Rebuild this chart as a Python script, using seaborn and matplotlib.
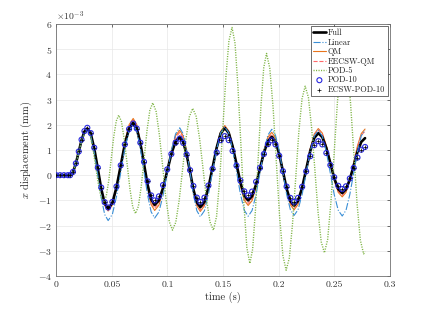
import matplotlib
matplotlib.use("Agg")
import matplotlib.pyplot as plt
from matplotlib.ticker import ScalarFormatter, MultipleLocator
import numpy as np
import seaborn as sns

# time samples (s) for the main responses
t_main = [0, 0.0035, 0.007, 0.0105,
          0.0125, 0.0151, 0.0177, 0.0203, 0.0228, 0.0254,
          0.0280, 0.0311, 0.0342, 0.0374, 0.0405, 0.0436,
          0.0467, 0.0505, 0.0542, 0.0580, 0.0617, 0.0655,
          0.0692, 0.0724, 0.0756, 0.0789, 0.0821, 0.0853,
          0.0885, 0.0923, 0.0960, 0.0998, 0.1035, 0.1073,
          0.1110, 0.1141, 0.1172, 0.1203, 0.1233, 0.1264,
          0.1295, 0.1332, 0.1368, 0.1405, 0.1442, 0.1478,
          0.1515, 0.1550, 0.1585, 0.1620, 0.1655, 0.1690,
          0.1725, 0.1760, 0.1796, 0.1831, 0.1866, 0.1902,
          0.1937, 0.1970, 0.2004, 0.2037, 0.2070, 0.2104,
          0.2137, 0.2173, 0.2210, 0.2246, 0.2282, 0.2319,
          0.2355, 0.2391, 0.2427, 0.2463, 0.2498, 0.2534,
          0.2570, 0.2604, 0.2638, 0.2673, 0.2707, 0.2741, 0.2775]

# displacements in units of 1e-3 mm
full = [0, 0, 0, 0,
        0, 0.12, 0.46, 0.93, 1.39, 1.73,
        1.85, 1.64, 1.06, 0.26, -0.54, -1.12,
        -1.33, -1.10, -0.48, 0.38, 1.23, 1.85,
        2.08, 1.86, 1.27, 0.45, -0.37, -0.96,
        -1.18, -1.00, -0.51, 0.17, 0.85, 1.34,
        1.52, 1.33, 0.82, 0.13, -0.57, -1.08,
        -1.27, -1.06, -0.49, 0.30, 1.09, 1.66,
        1.87, 1.68, 1.15, 0.44, -0.28, -0.81,
        -1.00, -0.83, -0.37, 0.26, 0.89, 1.35,
        1.52, 1.34, 0.84, 0.16, -0.53, -1.03,
        -1.21, -1.02, -0.49, 0.23, 0.95, 1.48,
        1.67, 1.51, 1.08, 0.48, -0.12, -0.55,
        -0.71, -0.56, -0.17, 0.38, 0.93, 1.32, 1.47]

linear = [0, 0, 0, 0,
          0, 0.12, 0.45, 0.90, 1.35, 1.68,
          1.80, 1.56, 0.90, 0.00, -0.90, -1.56,
          -1.80, -1.55, -0.85, 0.10, 1.05, 1.75,
          2.00, 1.75, 1.08, 0.15, -0.78, -1.45,
          -1.70, -1.46, -0.81, 0.09, 0.99, 1.64,
          1.88, 1.64, 1.00, 0.12, -0.77, -1.41,
          -1.65, -1.41, -0.76, 0.14, 1.03, 1.68,
          1.92, 1.68, 1.03, 0.15, -0.74, -1.39,
          -1.63, -1.40, -0.77, 0.10, 0.96, 1.59,
          1.82, 1.59, 0.97, 0.11, -0.75, -1.37,
          -1.60, -1.37, -0.76, 0.09, 0.94, 1.55,
          1.78, 1.55, 0.93, 0.08, -0.77, -1.39,
          -1.62, -1.39, -0.77, 0.09, 0.94, 1.56, 1.79]

qm = [0, 0, 0, 0,
      0, 0.13, 0.47, 0.94, 1.41, 1.75,
      1.88, 1.66, 1.06, 0.23, -0.60, -1.20,
      -1.42, -1.17, -0.50, 0.42, 1.33, 2.00,
      2.25, 2.01, 1.34, 0.43, -0.49, -1.16,
      -1.40, -1.19, -0.61, 0.19, 0.99, 1.57,
      1.78, 1.56, 0.98, 0.17, -0.64, -1.22,
      -1.44, -1.21, -0.59, 0.27, 1.12, 1.74,
      1.97, 1.76, 1.18, 0.39, -0.41, -0.99,
      -1.20, -1.01, -0.48, 0.25, 0.98, 1.51,
      1.70, 1.49, 0.93, 0.16, -0.61, -1.17,
      -1.38, -1.16, -0.57, 0.24, 1.04, 1.63,
      1.85, 1.67, 1.17, 0.50, -0.18, -0.68,
      -0.86, -0.68, -0.19, 0.49, 1.16, 1.65, 1.83]

eecsw_qm = [0, 0, 0, 0,
            0, 0.13, 0.47, 0.94, 1.40, 1.74,
            1.87, 1.65, 1.06, 0.25, -0.57, -1.16,
            -1.38, -1.14, -0.49, 0.40, 1.29, 1.94,
            2.18, 1.95, 1.31, 0.44, -0.43, -1.07,
            -1.30, -1.10, -0.55, 0.20, 0.95, 1.50,
            1.70, 1.49, 0.93, 0.16, -0.61, -1.17,
            -1.38, -1.16, -0.55, 0.28, 1.10, 1.71,
            1.93, 1.73, 1.17, 0.41, -0.36, -0.92,
            -1.12, -0.94, -0.44, 0.25, 0.94, 1.44,
            1.62, 1.42, 0.89, 0.16, -0.57, -1.10,
            -1.30, -1.09, -0.53, 0.25, 1.03, 1.59,
            1.80, 1.63, 1.15, 0.50, -0.15, -0.63,
            -0.80, -0.63, -0.16, 0.48, 1.11, 1.58, 1.75]

pod10 = [0, 0, 0, 0,
         0, 0.13, 0.47, 0.94, 1.41, 1.75,
         1.88, 1.67, 1.09, 0.30, -0.49, -1.07,
         -1.28, -1.06, -0.45, 0.39, 1.22, 1.83,
         2.05, 1.85, 1.29, 0.53, -0.24, -0.80,
         -1.00, -0.84, -0.39, 0.23, 0.84, 1.29,
         1.45, 1.28, 0.82, 0.20, -0.43, -0.89,
         -1.06, -0.89, -0.41, 0.25, 0.90, 1.39,
         1.55, 1.39, 0.96, 0.38, -0.21, -0.64,
         -0.80, -0.65, -0.26, 0.29, 0.84, 1.23,
         1.38, 1.22, 0.77, 0.16, -0.45, -0.90,
         -1.06, -0.90, -0.46, 0.15, 0.75, 1.19,
         1.35, 1.22, 0.88, 0.40, -0.08, -0.42,
         -0.55, -0.44, -0.13, 0.29, 0.70, 1.01, 1.12]

# ECSW-POD-10 sits on top of POD-10 in the figure
ecsw_pod10 = list(pod10)

# POD-5 has its own (faster, growing) oscillation
t_pod5 = [0, 0.0035, 0.007, 0.0105,
          0.0125, 0.0151, 0.0177, 0.0203, 0.0228, 0.0254,
          0.0280, 0.0305, 0.0329, 0.0354, 0.0379, 0.0403,
          0.0428, 0.0450, 0.0473, 0.0495, 0.0517, 0.0540,
          0.0562, 0.0587, 0.0612, 0.0638, 0.0663, 0.0688,
          0.0713, 0.0739, 0.0765, 0.0791, 0.0816, 0.0842,
          0.0868, 0.0898, 0.0927, 0.0957, 0.0986, 0.1016,
          0.1045, 0.1075, 0.1106, 0.1136, 0.1166, 0.1197,
          0.1227, 0.1258, 0.1289, 0.1320, 0.1351, 0.1382,
          0.1413, 0.1441, 0.1469, 0.1497, 0.1524, 0.1552,
          0.1580, 0.1607, 0.1633, 0.1660, 0.1687, 0.1713,
          0.1740, 0.1765, 0.1790, 0.1815, 0.1840, 0.1865,
          0.1890, 0.1919, 0.1949, 0.1978, 0.2007, 0.2037,
          0.2066, 0.2095, 0.2123, 0.2152, 0.2180, 0.2209,
          0.2237, 0.2266, 0.2295, 0.2324, 0.2352, 0.2381,
          0.2410, 0.2439, 0.2468, 0.2498, 0.2527, 0.2556,
          0.2585, 0.2615, 0.2644, 0.2674, 0.2703, 0.2733,
          0.2762, 0.2775]
pod5 = [0, 0, 0, 0,
        0, 0.12, 0.45, 0.90, 1.35, 1.68,
        1.80, 1.61, 1.09, 0.37, -0.35, -0.87,
        -1.06, -0.83, -0.20, 0.66, 1.52, 2.15,
        2.38, 2.12, 1.41, 0.43, -0.55, -1.26,
        -1.52, -1.23, -0.42, 0.68, 1.77, 2.58,
        2.87, 2.53, 1.61, 0.35, -0.92, -1.84,
        -2.18, -1.86, -0.97, 0.24, 1.44, 2.33,
        2.65, 2.33, 1.44, 0.24, -0.97, -1.86,
        -2.18, -1.64, -0.17, 1.84, 3.85, 5.32,
        5.86, 5.23, 3.52, 1.18, -1.16, -2.87,
        -3.50, -2.94, -1.42, 0.67, 2.75, 4.27,
        4.83, 4.25, 2.68, 0.53, -1.62, -3.19,
        -3.77, -3.28, -1.95, -0.12, 1.71, 3.04,
        3.53, 3.09, 1.88, 0.23, -1.43, -2.64,
        -3.08, -2.55, -1.09, 0.91, 2.91, 4.37,
        4.90, 4.36, 2.90, 0.89, -1.12, -2.58,
        -3.12, -3.03]

x_ticks = [0, 0.05, 0.1, 0.15, 0.2, 0.25, 0.3]
x_ticklabels = ["0", "0.05", "0.1", "0.15", "0.2", "0.25", "0.3"]

sns.set_style("whitegrid")
plt.rcParams['font.family'] = 'serif'
plt.rcParams['font.serif'] = ['cmr10', 'DejaVu Serif']
plt.rcParams['mathtext.fontset'] = 'cm'
plt.rcParams['axes.unicode_minus'] = False
plt.rcParams['axes.formatter.use_mathtext'] = True

sc = 1e-3
fig = plt.figure(figsize=(4.32, 3.11), dpi=100)
ax = fig.add_axes([0.13, 0.1125, 0.773, 0.8105])

t_main = np.array(t_main)
sns.lineplot(x=t_main, y=np.array(full) * sc, ax=ax, color='black', lw=1.9,
             label='Full', estimator=None, sort=False, zorder=3)
sns.lineplot(x=t_main, y=np.array(linear) * sc, ax=ax, color='#3a8fd6', lw=0.8,
             linestyle='-.', label='Linear', estimator=None, sort=False, zorder=4)
sns.lineplot(x=t_main, y=np.array(qm) * sc, ax=ax, color='#e8741c', lw=0.8,
             label='QM', estimator=None, sort=False, zorder=2)
sns.lineplot(x=t_main, y=np.array(eecsw_qm) * sc, ax=ax, color='#ff6a6a', lw=0.8,
             linestyle='--', label='EECSW-QM', estimator=None, sort=False, zorder=2.5)
sns.lineplot(x=np.array(t_pod5), y=np.array(pod5) * sc, ax=ax, color='#7cb342', lw=1.0,
             dashes=False, label='POD-5', estimator=None, sort=False, zorder=5)
ax.lines[-1].set_linestyle((0, (0.8, 1.0)))
sns.scatterplot(x=t_main, y=np.array(pod10) * sc, ax=ax, marker='o', s=13,
                facecolor='none', edgecolor='#2828e0', linewidth=0.8,
                label='POD-10', zorder=6)
sns.scatterplot(x=t_main, y=np.array(ecsw_pod10) * sc, ax=ax, marker='+', s=8,
                color='black', linewidth=0.5, label='ECSW-POD-10', zorder=7)

ax.set_xlim(0, 0.3)
ax.set_ylim(-4e-3, 6e-3)
ax.set_xticks(x_ticks)
ax.set_xticklabels(x_ticklabels)
ax.yaxis.set_major_locator(MultipleLocator(1e-3))
fmt = ScalarFormatter(useMathText=True)
fmt.set_powerlimits((0, 0))
ax.yaxis.set_major_formatter(fmt)
ax.yaxis.get_offset_text().set_fontsize(7)

ax.tick_params(direction='in', length=2.5, width=0.5, labelsize=7, top=True, right=True,
               colors='#333333', pad=3)
ax.grid(True, color='#e8e8e8', lw=0.5)
for sp in ax.spines.values():
    sp.set_color('#707070')
    sp.set_linewidth(0.6)

ax.set_xlabel('time (s)', fontsize=7.5, labelpad=2)
ax.set_ylabel('$x$ displacement (mm)', fontsize=7.5, labelpad=3)

leg = ax.legend(loc='upper right', fontsize=6, frameon=True, fancybox=False,
                edgecolor='#333333', framealpha=1, handlelength=1.5,
                borderpad=0.3, labelspacing=0.12, handletextpad=0.25,
                borderaxespad=0.3)
leg.get_frame().set_linewidth(0.5)
leg.set_zorder(10)

plt.savefig('out.png', dpi=100)
